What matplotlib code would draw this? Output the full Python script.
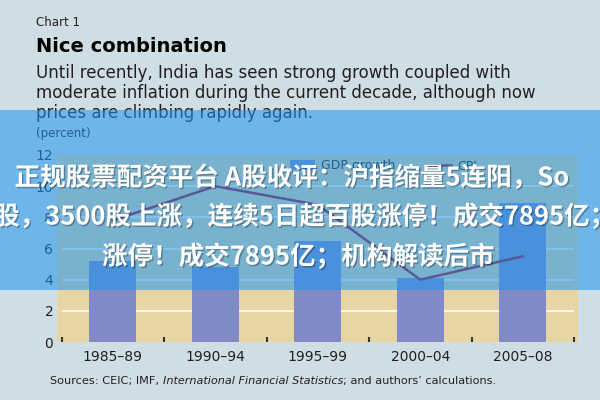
import matplotlib
matplotlib.use('Agg')
import matplotlib.pyplot as plt
from matplotlib.patches import Rectangle
import matplotlib.patheffects as pe

# data
periods = ['1985–89', '1990–94', '1995–99', '2000–04', '2005–08']
gdp_growth = [5.2, 4.8, 6.5, 4.1, 8.9]
cpi = [7.8, 10.0, 8.8, 4.0, 5.5]

subtitle = ['Until recently, India has seen strong growth coupled with',
            'moderate inflation during the current decade, although now',
            'prices are climbing rapidly again.']
banner_lines = ['正规股票配资平台 A股收评：沪指缩量5连阳，So',
                '股，3500股上涨，连续5日超百股涨停！成交7895亿；',
                '涨停！成交7895亿；机构解读后市']

bg = '#cfdde4'
plot_bg = '#e8d5a6'
bar_color = '#7f8ac6'
line_color = '#a3102a'
text_color = '#231f20'

plt.rcParams['font.family'] = ['DejaVu Sans']

fig = plt.figure(figsize=(6, 4), dpi=100)
fig.patch.set_facecolor(bg)

ax = fig.add_axes([0.0958, 0.145, 0.8678, 0.4675])
ax.set_facecolor(plot_bg)
x = list(range(len(periods)))

ax.hlines([2, 4, 6, 8, 10], -0.5, 4.5, colors='white', linewidth=1.2, zorder=1)
bars = ax.bar(x, gdp_growth, width=0.46, color=bar_color, zorder=2, label='GDP growth')
line, = ax.plot(x, cpi, color=line_color, linewidth=1.8, zorder=3, label='CPI')

ax.set_xlim(-0.54, 4.54)
ax.set_ylim(0, 12)
ax.set_yticks(range(0, 13, 2))
ax.set_xticks(x)
ax.set_xticklabels(periods)
ax.set_xticks([i - 0.5 for i in range(6)], minor=True)
ax.tick_params(axis='y', length=0, pad=3, labelsize=10, labelcolor=text_color)
ax.tick_params(axis='x', which='major', length=0, pad=6, labelsize=10, labelcolor=text_color)
ax.tick_params(axis='x', which='minor', direction='in', length=3.5, width=1.5, color='#333333')
for s in ax.spines.values():
    s.set_visible(False)

ax.legend(handles=[bars, line], ncol=2, loc='center left',
          bbox_to_anchor=(290 / 600, 1 - 166 / 400),
          bbox_transform=fig.transFigure, frameon=False, fontsize=9,
          handlelength=2.0, handleheight=0.9, handletextpad=0.5,
          columnspacing=2.4, borderpad=0, borderaxespad=0, labelcolor=text_color)

# header texts
fig.text(36 / 600, 1 - 22.7 / 400, 'Chart 1', fontsize=8.5, va='center', color=text_color)
fig.text(36 / 600, 1 - 46.7 / 400, 'Nice combination', fontsize=14, weight='bold',
         va='center', color='black')
for i, txt in enumerate(subtitle):
    fig.text(36 / 600, 1 - (73 + 20 * i) / 400, txt, fontsize=12, va='center', color=text_color)
fig.text(36 / 600, 1 - 133 / 400, '(percent)', fontsize=8.5, va='center', color=text_color)

# sources line with italic part
fig.canvas.draw()
r = fig.canvas.get_renderer()
xpos = 50 / 600
for part, style in [('Sources: CEIC; IMF,\u00a0', 'normal'),
                    ('International Financial Statistics', 'italic'),
                    ('; and authors\u2019 calculations.', 'normal')]:
    t = fig.text(xpos, 1 - 381 / 400, part, fontsize=8.1, style=style, va='center', color=text_color)
    bb = t.get_window_extent(r)
    xpos = bb.x1 / fig.bbox.width

# semi-transparent banner across the chart
fig.add_artist(Rectangle((0, 1 - 290 / 400), 1, 180 / 400, transform=fig.transFigure,
                         facecolor=(30 / 255, 150 / 255, 240 / 255), alpha=0.55,
                         edgecolor='none', zorder=5))

shadow = [pe.withSimplePatchShadow(offset=(1, -1), shadow_rgbFace='black', alpha=0.3)]
for txt, xp, yp in zip(banner_lines, [14.5, -6, 102], [178, 217, 257]):
    fig.text(xp / 600, 1 - yp / 400, txt, fontsize=18.4, weight='bold', color='white',
             family=['Noto Sans CJK SC', 'DejaVu Sans'], va='center', ha='left',
             zorder=10, path_effects=shadow)

fig.savefig('out.png', dpi=100, facecolor=bg)
